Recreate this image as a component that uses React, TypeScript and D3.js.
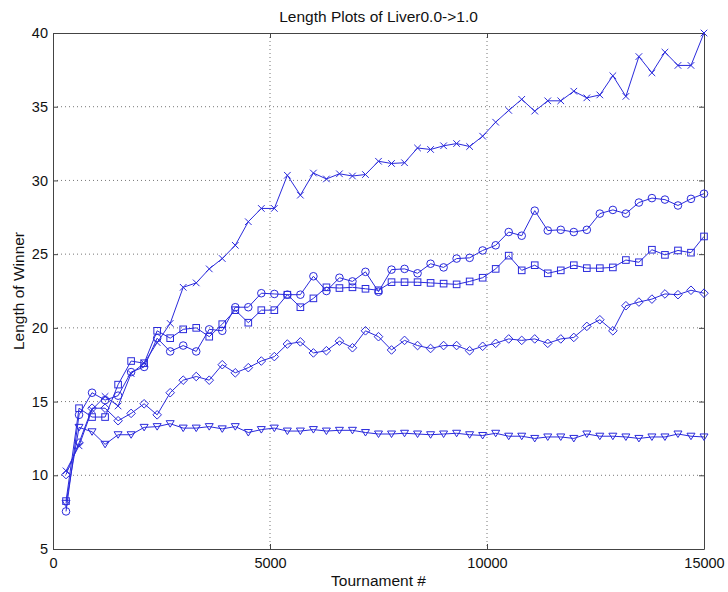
import React, { useEffect, useRef } from 'react';
import * as d3 from 'd3';

// tournaments 300, 600, ..., 15000
const tournaments = [
  300, 600, 900, 1200, 1500, 1800, 2100, 2400, 2700, 3000,
  3300, 3600, 3900, 4200, 4500, 4800, 5100, 5400, 5700, 6000,
  6300, 6600, 6900, 7200, 7500, 7800, 8100, 8400, 8700, 9000,
  9300, 9600, 9900, 10200, 10500, 10800, 11100, 11400, 11700, 12000,
  12300, 12600, 12900, 13200, 13500, 13800, 14100, 14400, 14700, 15000,
];

const crossSeries = [
  10.3, 12.0, 14.45, 15.35, 14.7, 16.9, 17.6, 19.0, 20.3, 22.75,
  23.05, 24.0, 24.7, 25.6, 27.2, 28.1, 28.1, 30.35, 29.0, 30.5,
  30.1, 30.45, 30.3, 30.4, 31.3, 31.15, 31.2, 32.2, 32.1, 32.35,
  32.5, 32.3, 33.0, 33.95, 34.75, 35.5, 34.7, 35.4, 35.4, 36.05,
  35.6, 35.8, 37.1, 35.7, 38.4, 37.3, 38.7, 37.8, 37.8, 40.0,
];

const circleSeries = [
  7.55, 14.1, 15.6, 15.1, 15.4, 17.0, 17.35, 19.3, 18.4, 18.8,
  18.4, 19.9, 19.8, 21.4, 21.4, 22.35, 22.3, 22.25, 22.25, 23.5,
  22.5, 23.4, 23.15, 23.8, 22.45, 23.95, 24.0, 23.7, 24.35, 24.1,
  24.7, 24.75, 25.25, 25.6, 26.5, 26.25, 27.95, 26.6, 26.65, 26.5,
  26.65, 27.75, 28.0, 27.75, 28.5, 28.8, 28.7, 28.3, 28.75, 29.1,
];

const squareSeries = [
  8.25, 14.55, 13.95, 13.95, 16.15, 17.75, 17.6, 19.8, 19.3, 19.9,
  20.0, 19.4, 20.25, 21.2, 20.35, 21.2, 21.2, 22.25, 21.4, 22.0,
  22.75, 22.7, 22.75, 22.65, 22.55, 23.1, 23.1, 23.1, 23.05, 23.0,
  22.95, 23.15, 23.4, 24.0, 24.9, 23.9, 24.25, 23.7, 23.9, 24.25,
  24.05, 24.05, 24.1, 24.6, 24.45, 25.3, 24.95, 25.25, 25.1, 26.2,
];

const diamondSeries = [
  10.05, 12.2, 14.55, 14.55, 13.7, 14.2, 14.85, 14.1, 15.6, 16.45,
  16.7, 16.45, 17.5, 16.95, 17.3, 17.75, 18.05, 18.9, 19.05, 18.3,
  18.45, 19.1, 18.65, 19.8, 19.4, 18.5, 19.15, 18.8, 18.6, 18.8,
  18.8, 18.45, 18.75, 18.95, 19.25, 19.15, 19.25, 18.95, 19.25, 19.35,
  20.1, 20.55, 19.8, 21.5, 21.75, 21.95, 22.3, 22.25, 22.55, 22.35,
];

const triangleSeries = [
  8.1, 13.25, 12.95, 12.1, 12.75, 12.75, 13.25, 13.3, 13.5, 13.2,
  13.2, 13.3, 13.15, 13.3, 12.9, 13.1, 13.2, 13.0, 13.0, 13.1,
  13.0, 13.05, 13.05, 12.9, 12.8, 12.8, 12.85, 12.8, 12.75, 12.8,
  12.85, 12.75, 12.7, 12.85, 12.65, 12.65, 12.5, 12.6, 12.6, 12.5,
  12.8, 12.65, 12.65, 12.6, 12.5, 12.6, 12.6, 12.8, 12.65, 12.6,
];

const xTicks = [0, 5000, 10000, 15000];
const yTicks = [5, 10, 15, 20, 25, 30, 35, 40];

const series = [
  { values: triangleSeries, marker: 'triangle' },
  { values: diamondSeries, marker: 'diamond' },
  { values: squareSeries, marker: 'square' },
  { values: circleSeries, marker: 'circle' },
  { values: crossSeries, marker: 'cross' },
];

const BLUE = '#2a2adc';

const App = () => {
  const ref = useRef<SVGSVGElement>(null);

  useEffect(() => {
    const svg = d3.select(ref.current);
    svg.selectAll('*').remove();

    const margin = { top: 33, right: 24, bottom: 43, left: 53 };
    const width = 728 - margin.left - margin.right;
    const height = 592 - margin.top - margin.bottom;
    const font = 'Liberation Sans, Arial, Helvetica, sans-serif';

    const x = d3.scaleLinear().domain([0, 15000]).range([0, width]);
    const y = d3.scaleLinear().domain([5, 40]).range([height, 0]);

    const g = svg.append('g')
      .attr('transform', `translate(${margin.left},${margin.top})`);

    // dotted grid
    g.append('g')
      .selectAll('line')
      .data(xTicks.slice(1, -1))
      .enter()
      .append('line')
      .attr('x1', d => x(d)).attr('x2', d => x(d))
      .attr('y1', 0).attr('y2', height)
      .attr('stroke', '#777').attr('stroke-width', 1)
      .attr('stroke-dasharray', '1,3');
    g.append('g')
      .selectAll('line')
      .data(yTicks.slice(1, -1))
      .enter()
      .append('line')
      .attr('y1', d => y(d)).attr('y2', d => y(d))
      .attr('x1', 0).attr('x2', width)
      .attr('stroke', '#777').attr('stroke-width', 1)
      .attr('stroke-dasharray', '1,3');

    // axes, ticks inward
    const xAxis = g.append('g')
      .attr('transform', `translate(0,${height})`)
      .call(d3.axisBottom(x).tickValues(xTicks).tickSizeInner(-5).tickSizeOuter(0).tickPadding(9).tickFormat(d3.format('d')));
    const xAxisTop = g.append('g')
      .call(d3.axisTop(x).tickValues(xTicks).tickSizeInner(-5).tickSizeOuter(0).tickFormat(() => ''));
    const yAxis = g.append('g')
      .call(d3.axisLeft(y).tickValues(yTicks).tickSizeInner(-5).tickSizeOuter(0).tickPadding(5));
    const yAxisRight = g.append('g')
      .attr('transform', `translate(${width},0)`)
      .call(d3.axisRight(y).tickValues(yTicks).tickSizeInner(-5).tickSizeOuter(0).tickFormat(() => ''));

    [xAxis, xAxisTop, yAxis, yAxisRight].forEach(a => {
      a.select('.domain').attr('stroke', '#444');
      a.selectAll('.tick line').attr('stroke', '#444');
      a.selectAll('text')
        .attr('font-family', font)
        .attr('font-size', 14.5)
        .attr('fill', '#111');
    });

    // lines and markers
    const line = d3.line<number>()
      .x((d, i) => x(tournaments[i]))
      .y(d => y(d));

    series.forEach(s => {
      const sg = g.append('g');
      sg.append('path')
        .datum(s.values)
        .attr('d', line)
        .attr('fill', 'none')
        .attr('stroke', BLUE)
        .attr('stroke-width', 1);

      const pts = sg.selectAll('.m')
        .data(s.values)
        .enter()
        .append('g')
        .attr('transform', (d, i) => `translate(${x(tournaments[i])},${y(d)})`);

      if (s.marker === 'circle') {
        pts.append('circle').attr('r', 3.8)
          .attr('fill', 'none').attr('stroke', BLUE).attr('stroke-width', 1);
      } else if (s.marker === 'square') {
        pts.append('rect').attr('x', -3.3).attr('y', -3.3).attr('width', 6.6).attr('height', 6.6)
          .attr('fill', 'none').attr('stroke', BLUE).attr('stroke-width', 1);
      } else if (s.marker === 'diamond') {
        pts.append('path').attr('d', 'M0,-4.3L4.3,0L0,4.3L-4.3,0Z')
          .attr('fill', 'none').attr('stroke', BLUE).attr('stroke-width', 1);
      } else if (s.marker === 'triangle') {
        pts.append('path').attr('d', 'M-4,-3L4,-3L0,3.5Z')
          .attr('fill', 'none').attr('stroke', BLUE).attr('stroke-width', 1);
      } else {
        pts.append('path').attr('d', 'M-3.3,-3.3L3.3,3.3M-3.3,3.3L3.3,-3.3')
          .attr('fill', 'none').attr('stroke', BLUE).attr('stroke-width', 1);
      }
    });

    // labels
    svg.append('text')
      .attr('x', margin.left + width / 2)
      .attr('y', 22)
      .attr('text-anchor', 'middle')
      .attr('font-family', font)
      .attr('font-size', 15.5)
      .attr('fill', '#111')
      .text('Length Plots of Liver0.0->1.0');

    svg.append('text')
      .attr('x', margin.left + width / 2)
      .attr('y', 586)
      .attr('text-anchor', 'middle')
      .attr('font-family', font)
      .attr('font-size', 15.5)
      .attr('fill', '#111')
      .text('Tournament #');

    svg.append('text')
      .attr('transform', `translate(24,${margin.top + height / 2}) rotate(-90)`)
      .attr('text-anchor', 'middle')
      .attr('font-family', font)
      .attr('font-size', 15.5)
      .attr('fill', '#111')
      .text('Length of Winner');
  }, []);

  return (
    <div style={{ position: 'absolute', left: 0, top: 0 }}>
      <svg ref={ref} width={728} height={592} style={{ display: 'block', background: '#fff' }}></svg>
    </div>
  );
};

export default App;
